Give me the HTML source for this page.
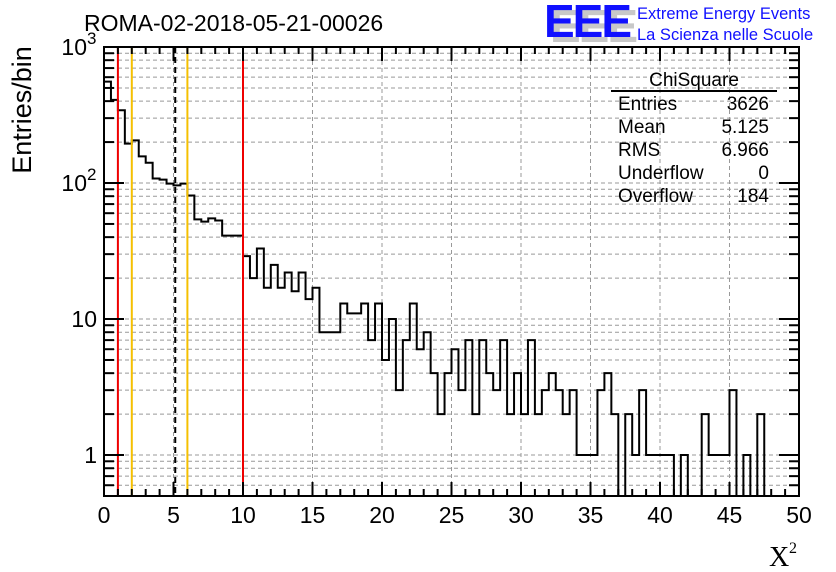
<!DOCTYPE html>
<html><head><meta charset="utf-8"><style>
body{margin:0;background:#fff;}
svg{display:block;font-family:"Liberation Sans",sans-serif;}
</style></head><body>
<svg id="c" width="836" height="572" viewBox="0 0 836 572"></svg>
<script>
const binWidth = 0.5;
const binCounts = [556,409,343,195,206,157,141,108,106,99,96,99,81,54,52,55,53,41,41,41,
29,20,33,17,25,17,22,16,22,14,17,8,8,8,13,11,11,13,7,13,
5,10,3,7,13,6,8,4,2,4,6,3,7,2,7,4,3,7,2,4,
2,7,2,3,4,3,2,3,1,1,1,3,4,2,0,2,1,3,1,1,
1,1,0,1,0,0,2,1,1,1,3,0,1,0,2,0,0,0,0,0];
const xTicks = [0,5,10,15,20,25,30,35,40,45,50];
const yTickVals = [1,10,100,1000];
const yTickLabels = ["1","10","10","10"];
const vLinesRed = [1,10];
const vLinesOrange = [2,6];
const meanLine = [5.125];
const statsLabels = ["Entries","Mean","RMS","Underflow","Overflow"];
const statsValues = ["3626","5.125","6.966","0","184"];

const L=104,R=799,T=47,B=496,XMIN=0,XMAX=50,YMIN=0.5,YMAX=1000;
const sx=v=>L+(v-XMIN)/(XMAX-XMIN)*(R-L);
const sy=v=>B-(Math.log10(v)-Math.log10(YMIN))/(Math.log10(YMAX)-Math.log10(YMIN))*(B-T);
const NS="http://www.w3.org/2000/svg";
const svg=document.getElementById('c');
function mk(tag,attrs,parent){const e=document.createElementNS(NS,tag);for(const k in attrs)e.setAttribute(k,attrs[k]);(parent||svg).appendChild(e);return e;}

const grid=mk('g',{stroke:'#999','stroke-width':1,'stroke-dasharray':'4,3'});


xTicks.forEach(v=>{if(v>XMIN&&v<XMAX)mk('line',{x1:sx(v),x2:sx(v),y1:T,y2:B},grid);});
for(let d=-1;d<3;d++)for(let m=1;m<10;m++){const v=m*Math.pow(10,d);if(v>YMIN&&v<YMAX)mk('line',{x1:L,x2:R,y1:sy(v),y2:sy(v)},grid);}

let p='';
binCounts.forEach((c,i)=>{const y=c>0?sy(Math.max(c,YMIN)):B;const x0=sx(i*binWidth),x1=sx((i+1)*binWidth);p+=(i===0?`M${x0},${y}`:`L${x0},${y}`)+`L${x1},${y}`;});
const h=mk('path',{d:p,fill:'none',stroke:'#000','stroke-width':2});



vLinesRed.forEach(v=>{const l=mk('line',{x1:sx(v),x2:sx(v),y1:T,y2:B,stroke:'#e00','stroke-width':2});

});
vLinesOrange.forEach(v=>{const l=mk('line',{x1:sx(v),x2:sx(v),y1:T,y2:B,stroke:'#f5c000','stroke-width':2});

});
meanLine.forEach(v=>{const l=mk('line',{x1:sx(v),x2:sx(v),y1:T,y2:B,stroke:'#000','stroke-width':2,'stroke-dasharray':'6,4'});

});

const fr=mk('rect',{x:L,y:T,width:R-L,height:B-T,fill:'none',stroke:'#000','stroke-width':2});



const ax=mk('g',{stroke:'#000','stroke-width':2});


for(let v=XMIN;v<=XMAX;v+=1){const len=v%5===0?14:7;const x=sx(v);
mk('line',{x1:x,x2:x,y1:B,y2:B-len},ax);mk('line',{x1:x,x2:x,y1:T,y2:T+len},ax);}
xTicks.forEach(v=>{const t=mk('text',{x:sx(v),y:523,'font-size':23,'text-anchor':'middle',stroke:'none',fill:'#000'});t.textContent=v;

});

const ay=mk('g',{stroke:'#000','stroke-width':2});


for(let d=-1;d<3;d++)for(let m=1;m<10;m++){const v=m*Math.pow(10,d);if(v<YMIN||v>YMAX)continue;const len=m===1?20:10;const y=sy(v);
mk('line',{x1:L,x2:L+len,y1:y,y2:y},ay);mk('line',{x1:R,x2:R-len,y1:y,y2:y},ay);}
mk('line',{x1:L,x2:L+20,y1:sy(1000),y2:sy(1000)},ay);mk('line',{x1:R,x2:R-20,y1:sy(1000),y2:sy(1000)},ay);
yTickVals.forEach((v,i)=>{const t=mk('text',{x:v>=100?87:97,y:sy(v)+8,'font-size':23,'text-anchor':'end',fill:'#000'});t.textContent=yTickLabels[i];


if(v>=100){const s=mk('text',{x:87,y:sy(v)-3,'font-size':17,'text-anchor':'start',fill:'#000'});s.textContent=v===100?'2':'3';

}});

const st=mk('g',{});


const tt=mk('text',{x:694,y:86,'font-size':19,'text-anchor':'middle'},st);tt.textContent='ChiSquare';
mk('line',{x1:611,x2:777,y1:91,y2:91,stroke:'#000','stroke-width':2},st);
statsLabels.forEach((s,i)=>{const y=110+i*23;
const a=mk('text',{x:618,y:y,'font-size':19},st);a.textContent=s;
const b=mk('text',{x:769,y:y,'font-size':19,'text-anchor':'end'},st);b.textContent=statsValues[i];});
</script>
<script>
(function(){const svg=document.getElementById('c');const NS="http://www.w3.org/2000/svg";
function t(txt,attrs,name){const e=document.createElementNS(NS,'text');for(const k in attrs)e.setAttribute(k,attrs[k]);e.textContent=txt;


svg.appendChild(e);}
t('ROMA-02-2018-05-21-00026',{x:84,y:31,'font-size':23},'chart-title');
t('EEE',{x:550,y:42,'font-size':46,'font-weight':'bold',fill:'#c8c8c8','letter-spacing':'-2'},'logo-shadow');
t('EEE',{x:544,y:37,'font-size':46,'font-weight':'bold',fill:'#1010ff','letter-spacing':'-2'},'logo-eee');
t('Extreme Energy Events',{x:637,y:19,'font-size':16.5,fill:'#1010ff'},'logo-line-1');
t('La Scienza nelle Scuole',{x:637,y:40,'font-size':16.5,fill:'#1010ff'},'logo-line-2');
t('Entries/bin',{x:0,y:0,'font-size':27,'text-anchor':'middle',transform:'translate(31,110) rotate(-90)'},'y-axis-title');
t('X',{x:769,y:566,'font-size':28,'font-family':'Liberation Serif'},'x-axis-title');
t('2',{x:789,y:553,'font-size':16,'font-family':'Liberation Serif'},'x-axis-title-exponent');
})();
</script>
</body></html>
